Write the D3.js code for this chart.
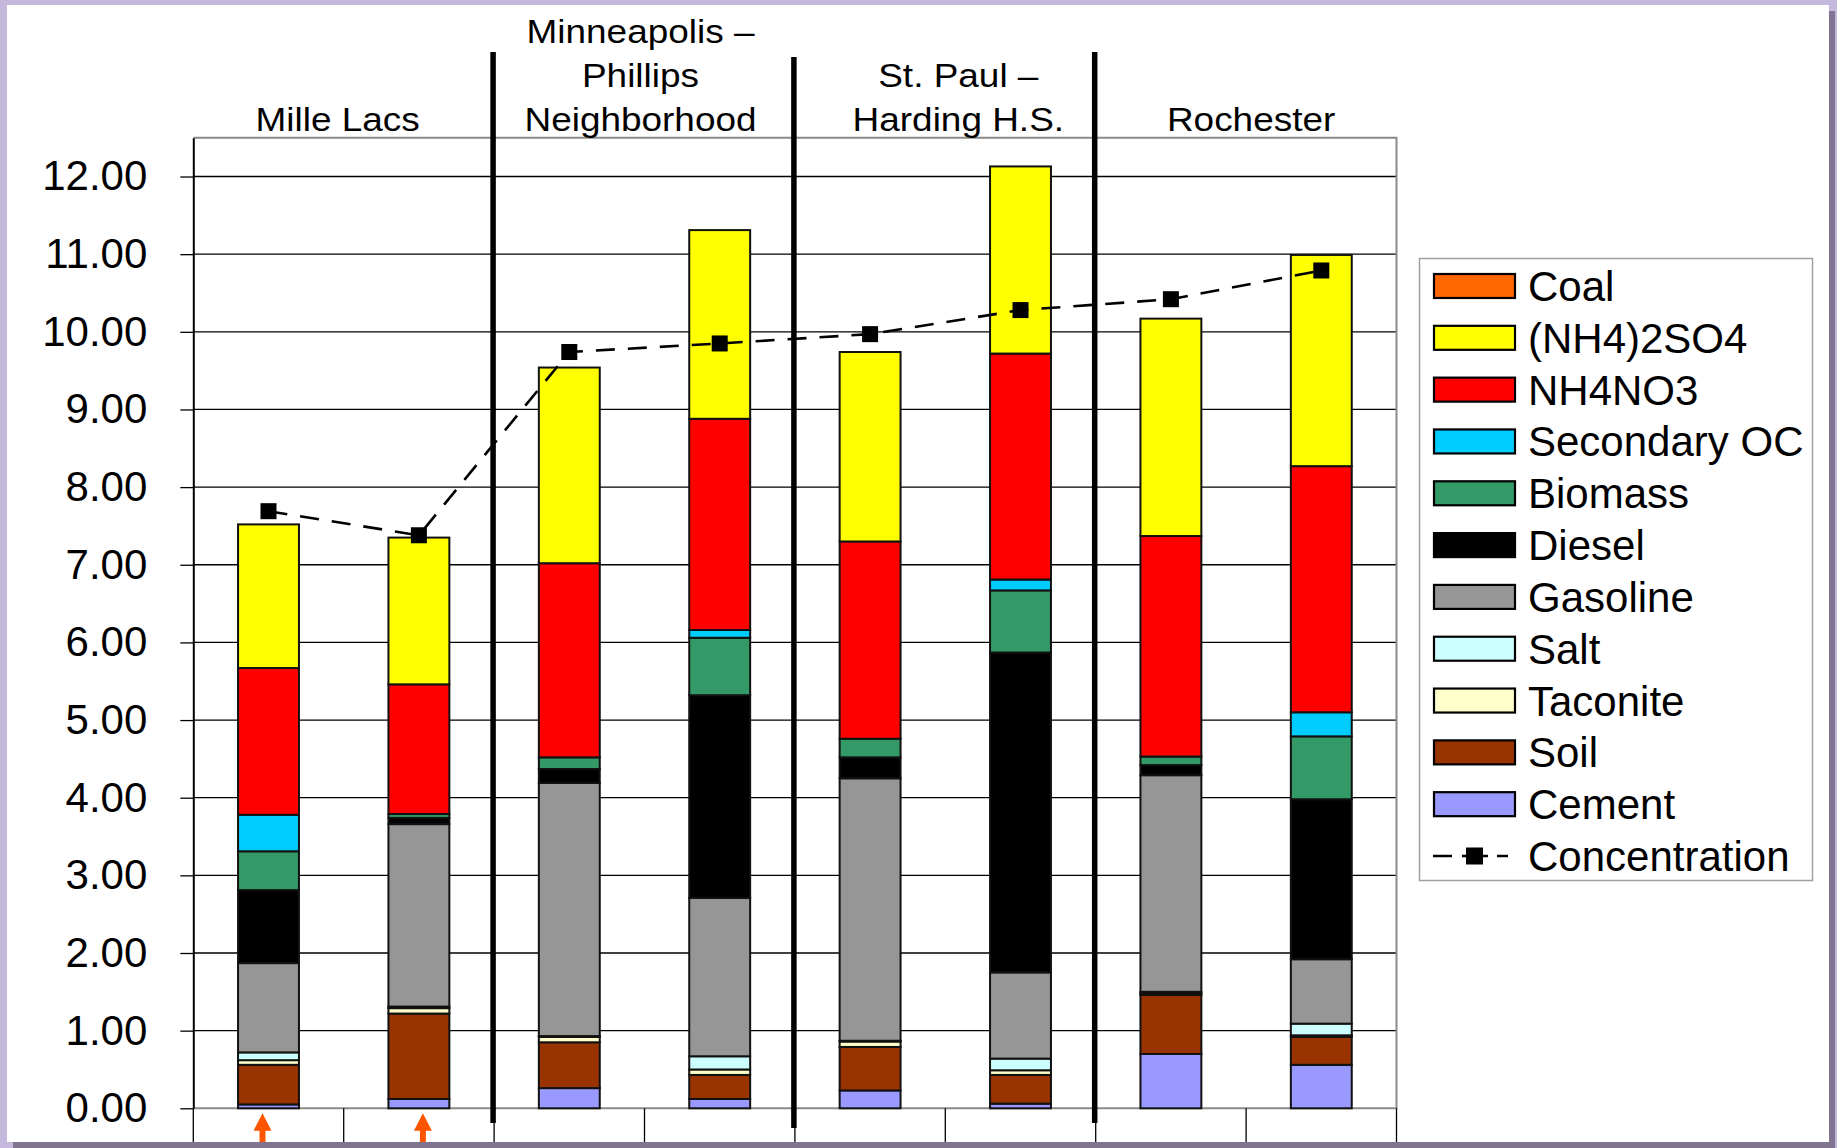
<!DOCTYPE html>
<html>
<head>
<meta charset="utf-8">
<script src="https://cdn.jsdelivr.net/npm/d3@7"></script>
<style>
  html, body { margin: 0; padding: 0; background: #c4b9dc; overflow: hidden; }
  text { font-family: "Liberation Sans", Arial, Helvetica, sans-serif; fill: #000; }
</style>
</head>
<body>
<div id="chart"></div>
<script>
// sampling sites (group headers) and which site each bar belongs to
const sites = [
  ["Mille Lacs"],
  ["Minneapolis –", "Phillips", "Neighborhood"],
  ["St. Paul –", "Harding H.S."],
  ["Rochester"]
];
const bars = ["ML-a", "ML-b", "MP-a", "MP-b", "SP-a", "SP-b", "RO-a", "RO-b"];
const barSite = [0, 0, 1, 1, 2, 2, 3, 3];

// source contributions, one value per bar
const cement      = [0.05, 0.12, 0.26, 0.12, 0.23, 0.06, 0.70, 0.56];
const soil        = [0.51, 1.10, 0.59, 0.31, 0.56, 0.37, 0.76, 0.36];
const taconite    = [0.06, 0.07, 0.07, 0.07, 0.07, 0.06, 0.02, 0.02];
const salt        = [0.10, 0.02, 0.01, 0.17, 0.01, 0.15, 0.02, 0.15];
const gasoline    = [1.15, 2.35, 3.26, 2.04, 3.38, 1.11, 2.79, 0.83];
const diesel      = [0.94, 0.08, 0.18, 2.61, 0.27, 4.12, 0.13, 2.06];
const biomass     = [0.50, 0.05, 0.15, 0.74, 0.24, 0.80, 0.11, 0.81];
const secondaryOC = [0.47, 0.00, 0.00, 0.10, 0.00, 0.14, 0.00, 0.31];
const nh4no3      = [1.89, 1.67, 2.50, 2.72, 2.54, 2.91, 2.84, 3.17];
const nh42so4     = [1.85, 1.89, 2.52, 2.43, 2.44, 2.41, 2.80, 2.72];
const coal        = [0, 0, 0, 0, 0, 0, 0, 0];

// measured mass concentration
const concentration = [7.69, 7.38, 9.74, 9.85, 9.97, 10.28, 10.42, 10.79];

const yTicks = [0, 1, 2, 3, 4, 5, 6, 7, 8, 9, 10, 11, 12];
const arrowBars = [0, 1];

// stack order, bottom to top
const keys = ["Cement", "Soil", "Taconite", "Salt", "Gasoline", "Diesel",
              "Biomass", "Secondary OC", "NH4NO3", "(NH4)2SO4", "Coal"];
const seriesValues = {
  "Cement": cement, "Soil": soil, "Taconite": taconite, "Salt": salt,
  "Gasoline": gasoline, "Diesel": diesel, "Biomass": biomass,
  "Secondary OC": secondaryOC, "NH4NO3": nh4no3, "(NH4)2SO4": nh42so4, "Coal": coal
};
const colors = {
  "Coal": "#ff6600", "(NH4)2SO4": "#ffff00", "NH4NO3": "#ff0000",
  "Secondary OC": "#00ccff", "Biomass": "#339966", "Diesel": "#000000",
  "Gasoline": "#969696", "Salt": "#ccffff", "Taconite": "#ffffcc",
  "Soil": "#993300", "Cement": "#9999ff"
};

const table = bars.map((b, i) => {
  const row = { bar: b };
  keys.forEach(k => row[k] = seriesValues[k][i]);
  return row;
});

const W = 1837, H = 1148;
const plot = { left: 193.3, right: 1396.5, top: 137.7, bottom: 1108.3 };
const bandBottom = 1142;
// header text boxes sit a little off the group centres
const headerNudge = [-6, -4, 13, 5];

const svg = d3.select("#chart").append("svg")
  .attr("width", W).attr("height", H);

// slide frame with shadow
svg.append("rect").attr("x", 0).attr("y", 0).attr("width", W).attr("height", H).attr("fill", "#c4b9dc");
svg.append("rect").attr("x", 13).attr("y", 11).attr("width", 1822).attr("height", H - 11).attr("fill", "#7f7591");
svg.append("rect").attr("x", 7).attr("y", 5).attr("width", 1822).attr("height", 1137).attr("fill", "#fff");

const x = d3.scaleBand()
  .domain(bars)
  .range([plot.left, plot.right])
  .padding(0);
const barW = x.bandwidth() * 0.405;

const y = d3.scaleLinear()
  .domain([0, 12.5])
  .range([plot.bottom, plot.top]);

// gridlines
svg.append("g")
  .selectAll("line")
  .data(yTicks.filter(d => d > 0))
  .join("line")
    .attr("x1", plot.left).attr("x2", plot.right)
    .attr("y1", d => y(d)).attr("y2", d => y(d))
    .attr("stroke", "#000").attr("stroke-width", 1.3);

// plot area border (top, right, bottom)
svg.append("path")
  .attr("d", `M${plot.left},${plot.top}H${plot.right}V${plot.bottom}H${plot.left}`)
  .attr("fill", "none").attr("stroke", "#8a8a8a").attr("stroke-width", 2);

// stacked bars
const stacked = d3.stack().keys(keys)(table);
svg.append("g")
  .selectAll("g")
  .data(stacked)
  .join("g")
    .attr("fill", d => colors[d.key])
  .selectAll("rect")
  .data(d => d.filter(s => s[1] - s[0] > 0))
  .join("rect")
    .attr("x", d => x(d.data.bar) + (x.bandwidth() - barW) / 2)
    .attr("width", barW)
    .attr("y", d => y(d[1]))
    .attr("height", d => y(d[0]) - y(d[1]))
    .attr("stroke", "#111")
    .attr("stroke-width", 2);

// y axis
const yAxis = svg.append("g")
  .attr("transform", `translate(${plot.left},0)`)
  .call(d3.axisLeft(y)
    .tickValues(yTicks)
    .tickFormat(d3.format(".2f"))
    .tickSize(13)
    .tickSizeOuter(0)
    .tickPadding(33));
yAxis.select(".domain").attr("stroke", "#000").attr("stroke-width", 2);
yAxis.selectAll(".tick line").attr("stroke", "#000").attr("stroke-width", 1.3);
yAxis.selectAll(".tick text")
  .style("font-family", '"Liberation Sans", Arial, sans-serif')
  .style("font-size", "42px")
  .attr("fill", "#000");

// category band under the axis (empty labels, boundary ticks)
const boundaries = d3.range(bars.length + 1).map(i => plot.left + i * x.step());
svg.append("g")
  .selectAll("line")
  .data(boundaries)
  .join("line")
    .attr("x1", d => d).attr("x2", d => d)
    .attr("y1", plot.bottom).attr("y2", bandBottom)
    .attr("stroke", "#000").attr("stroke-width", 1.3);

// heavy separators between sites
const sepIdx = [2, 4, 6];
svg.append("g")
  .selectAll("line")
  .data(sepIdx)
  .join("line")
    .attr("x1", i => boundaries[i] - 1).attr("x2", i => boundaries[i] - 1)
    .attr("y1", (i, j) => j === 1 ? 57 : 52)
    .attr("y2", (i, j) => j === 1 ? 1128 : 1123)
    .attr("stroke", "#000").attr("stroke-width", 5.5);

// concentration line + markers
const line = d3.line()
  .x((d, i) => x(bars[i]) + x.bandwidth() / 2)
  .y(d => y(d));
svg.append("path")
  .datum(concentration)
  .attr("d", line)
  .attr("fill", "none")
  .attr("stroke", "#000")
  .attr("stroke-width", 2.6)
  .attr("stroke-dasharray", "19,13");
svg.append("g")
  .selectAll("rect")
  .data(concentration)
  .join("rect")
    .attr("x", (d, i) => x(bars[i]) + x.bandwidth() / 2 - 8)
    .attr("y", d => y(d) - 8)
    .attr("width", 16).attr("height", 16)
    .attr("fill", "#000");

// site headers
const headers = svg.append("g");
sites.forEach((lines, s) => {
  const idx = barSite.map((v, i) => v === s ? i : -1).filter(i => i >= 0);
  const cx = (x(bars[idx[0]]) + x(bars[idx[idx.length - 1]]) + x.bandwidth()) / 2 + headerNudge[s];
  lines.forEach((t, k) => {
    const by = 131 - (lines.length - 1 - k) * 44;
    headers.append("text")
      .attr("transform", `translate(${cx},${by}) scale(1.12,1)`)
      .attr("text-anchor", "middle")
      .style("font-size", "33px")
      .text(t);
  });
});

// legend
const legendItems = keys.slice().reverse().concat(["Concentration"]);
const legend = svg.append("g");
legend.append("rect")
  .attr("x", 1419.5).attr("y", 258.5).attr("width", 393).attr("height", 622)
  .attr("fill", "#fff").attr("stroke", "#a0a0a0").attr("stroke-width", 1.5);
const rowY = d3.scaleLinear().domain([0, legendItems.length - 1]).range([286, 856]);
legendItems.forEach((k, i) => {
  const cy = rowY(i);
  if (k === "Concentration") {
    legend.append("line")
      .attr("x1", 1433).attr("x2", 1508).attr("y1", cy).attr("y2", cy)
      .attr("stroke", "#000").attr("stroke-width", 2.6)
      .attr("stroke-dasharray", "19,10,26,9,16");
    legend.append("rect")
      .attr("x", 1466).attr("y", cy - 8.5).attr("width", 17).attr("height", 17)
      .attr("fill", "#000");
  } else {
    legend.append("rect")
      .attr("x", 1434).attr("y", cy - 12).attr("width", 81).attr("height", 24)
      .attr("fill", colors[k]).attr("stroke", "#000").attr("stroke-width", 2.2);
  }
  legend.append("text")
    .attr("x", 1528).attr("y", cy + 15)
    .style("font-size", "42px")
    .text(k);
});

// orange arrows under the Mille Lacs bars
svg.append("g")
  .selectAll("path")
  .data(arrowBars)
  .join("path")
    .attr("d", i => {
      const cx = x(bars[i]) + x.bandwidth() / 2 - (i === 0 ? 6 : -4);
      const tip = plot.bottom + 5;
      return `M${cx},${tip}L${cx + 9},${tip + 17.5}L${cx + 3},${tip + 17.5}L${cx + 3},${bandBottom}` +
             `L${cx - 3},${bandBottom}L${cx - 3},${tip + 17.5}L${cx - 9},${tip + 17.5}Z`;
    })
    .attr("fill", "#ff5500");
</script>
</body>
</html>
